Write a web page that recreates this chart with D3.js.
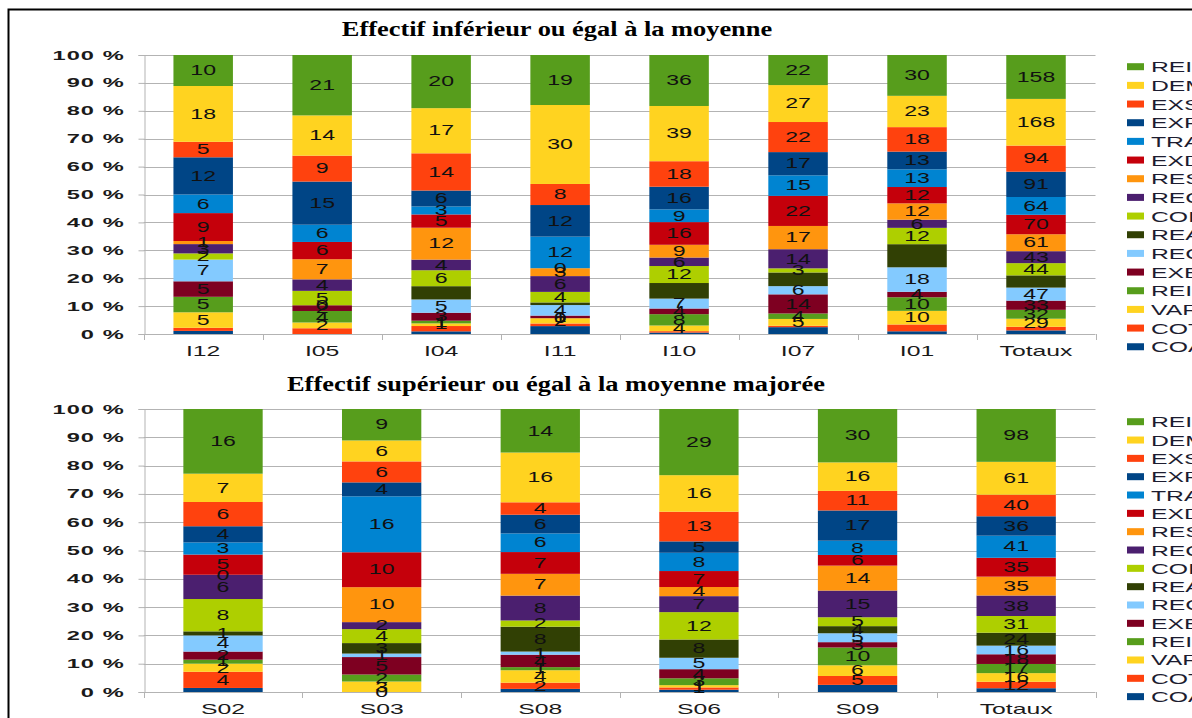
<!DOCTYPE html>
<html><head><meta charset="utf-8">
<script src="https://cdn.jsdelivr.net/npm/d3@7"></script>
<style>body{margin:0;background:#fff;overflow:hidden}svg{display:block}</style>
</head><body><svg id="c" width="1192" height="718"></svg>
<script>
// ---------- DATA ----------
// series order: bottom of stack -> top of stack
const seriesNames = ["COA","COT","VAR","REI","EXE","REC","REA","COI","REC","RES","EXD","TRA","EXP","EXS","DEM","REI"];
const seriesColors = ["#004586","#ff420e","#ffd320","#579d1c","#7e0021","#83caff","#314004","#aecf00","#4b1f6f","#ff950e","#c5000b","#0084d1","#004586","#ff420e","#ffd320","#579d1c"];
const yTickLabels = ["0 %","10 %","20 %","30 %","40 %","50 %","60 %","70 %","80 %","90 %","100 %"];

const topTitle = "Effectif inférieur ou égal à la moyenne";
const topCategories = ["I12","I05","I04","I11","I10","I07","I01","Totaux"];
const topI12    = [1,1,5,5,5,7,0,2,3,1,9,6,12,5,18,10];
const topI05    = [0,2,2,4,2,0,0,5,4,7,6,6,15,9,14,21];
const topI04    = [1,2,1,1,3,5,5,6,4,12,5,3,6,14,17,20];
const topI11    = [3,1,2,0,1,4,1,4,6,3,0,12,12,8,30,19];
const topI10    = [1,1,4,8,4,7,11,12,6,9,16,9,16,18,39,36];
const topI07    = [5,1,5,4,14,6,10,3,14,17,22,15,17,22,27,22];
const topI01    = [2,5,10,10,4,18,17,12,6,12,12,13,13,18,23,30];
const topTotaux = [13,13,29,32,33,47,44,44,43,61,70,64,91,94,168,158];

const botTitle = "Effectif supérieur ou égal à la moyenne majorée";
const botCategories = ["S02","S03","S08","S06","S09","Totaux"];
const botS02    = [1,4,2,1,2,4,1,8,6,0,5,3,4,6,7,16];
const botS03    = [0,0,3,2,5,1,3,4,2,10,10,16,4,6,6,9];
const botS08    = [1,2,4,1,4,1,8,2,8,7,7,6,6,4,16,14];
const botS06    = [1,1,1,3,4,5,8,12,7,4,7,8,5,13,16,29];
const botS09    = [4,5,6,10,3,5,4,5,15,14,6,8,17,11,16,30];
const botTotaux = [7,12,16,17,18,16,24,31,38,35,35,41,36,40,61,98];

// ---------- DRAW ----------
const SX = 1.65;
const svg = d3.select("#c");
svg.append("rect").attr("width",1192).attr("height",718).attr("fill","#fff");
svg.append("rect").attr("x",8.5).attr("y",9.5).attr("width",1400).attr("height",900)
   .attr("fill","none").attr("stroke","#000").attr("stroke-width",2);

function stext(g, x, y, str, o) {
  o = o || {};
  const t = g.append("text")
    .attr("transform", `translate(${x},${y}) scale(${o.sx || SX},1)`)
    .attr("text-anchor", o.anchor || "middle")
    .attr("dominant-baseline", o.baseline || "auto")
    .style("font-family", o.font || "'Liberation Sans', Arial, sans-serif")
    .style("font-size", (o.size || 14) + "px")
    .style("font-weight", o.weight || "normal")
    .style("fill", o.fill || "#000")
    .text(str);
  if (o.ls) t.style("letter-spacing", o.ls + "px");
  return t;
}

function drawChart(cfg) {
  const g = svg.append("g");
  const keys = seriesNames.map((_, i) => "s" + i);
  const rows = cfg.categories.map((c, i) => {
    const r = { cat: c };
    cfg.values[i].forEach((v, j) => r["s" + j] = v == null ? 0 : v);
    return r;
  });
  const stacked = d3.stack().keys(keys).offset(d3.stackOffsetExpand)(rows);

  const x = d3.scaleBand().domain(cfg.categories).range([cfg.x0, cfg.x1])
    .paddingInner(0.5).paddingOuter(0.25);
  const y = d3.scaleLinear().domain([0, 1]).range([cfg.yb, cfg.yt]);
  const tv = d3.range(0, 11).map(d => d / 10);

  // gridlines
  g.append("g").selectAll("line").data(tv).join("line")
    .attr("x1", cfg.x0).attr("x2", cfg.x1)
    .attr("y1", d => Math.round(y(d)) + 0.5).attr("y2", d => Math.round(y(d)) + 0.5)
    .attr("stroke", "#b3b3b3").attr("stroke-width", 1);

  // y axis
  const ya = g.append("g").attr("transform", `translate(${Math.round(cfg.x0) + 0.5},0)`)
    .call(d3.axisLeft(y).tickValues(tv).tickSize(6).tickFormat(""));
  ya.selectAll("path,line").attr("stroke", "#b3b3b3");
  tv.forEach((d, i) => stext(g, cfg.x0 - 19, y(d), yTickLabels[i],
    { anchor: "end", baseline: "central", size: 13.5, fill: "#1a1a1a", weight: "bold", sx: 1.75, ls: 0.6 }));

  // x axis boundary ticks
  const bounds = cfg.categories.map(c => x(c) - x.step() * x.paddingInner() / 2)
    .concat([cfg.x1]);
  g.append("g").selectAll("line").data(bounds).join("line")
    .attr("x1", d => Math.round(d) + 0.5).attr("x2", d => Math.round(d) + 0.5)
    .attr("y1", cfg.yb).attr("y2", cfg.yb + 6)
    .attr("stroke", "#b3b3b3");

  // bars
  stacked.forEach((s, si) => {
    g.append("g").attr("fill", seriesColors[si]).selectAll("rect").data(s).join("rect")
      .attr("x", d => x(d.data.cat)).attr("width", x.bandwidth())
      .attr("y", d => y(d[1])).attr("height", d => Math.max(0, y(d[0]) - y(d[1])));
  });
  // labels
  stacked.forEach((s, si) => {
    if (cfg.hiddenLabels.includes(si)) return;
    s.forEach((d, ci) => {
      const v = cfg.values[ci][si];
      if (v == null) return;
      stext(g, x(d.data.cat) + x.bandwidth() / 2, (y(d[0]) + y(d[1])) / 2, String(v),
        { baseline: "central", size: 14, fill: "#111" });
    });
  });

  // category labels
  cfg.categories.forEach(c => stext(g, x(c) + x.bandwidth() / 2, cfg.catY, c,
    { size: 15, fill: "#1a1a1a" }));

  // title
  stext(g, cfg.titleX, cfg.titleY, cfg.title,
    { font: "'Liberation Serif','Times New Roman',serif", weight: "bold", size: 22, sx: 1.2 });

  // legend (top of stack first)
  const order = d3.range(seriesNames.length).reverse();
  order.forEach((si, k) => {
    const ly = cfg.legY + k * cfg.legStep;
    g.append("rect").attr("x", 1127).attr("y", ly - 3.5).attr("width", 17).attr("height", 7)
      .attr("fill", seriesColors[si]);
    stext(g, 1151, ly, seriesNames[si], { anchor: "start", baseline: "central", size: 15, fill: "#1c1c30" });
  });
}

drawChart({
  title: topTitle, titleX: 557, titleY: 36,
  categories: topCategories,
  values: [topI12, topI05, topI04, topI11, topI10, topI07, topI01, topTotaux],
  x0: 143.7, x1: 1095.5, yb: 334, yt: 55, catY: 356,
  legY: 66.7, legStep: 18.67, hiddenLabels: [0, 1, 6]
});
drawChart({
  title: botTitle, titleX: 556, titleY: 391,
  categories: botCategories,
  values: [botS02, botS03, botS08, botS06, botS09, botTotaux],
  x0: 143.7, x1: 1095.5, yb: 692, yt: 409, catY: 714,
  legY: 421.7, legStep: 18.33, hiddenLabels: [0]
});
</script></body></html>
